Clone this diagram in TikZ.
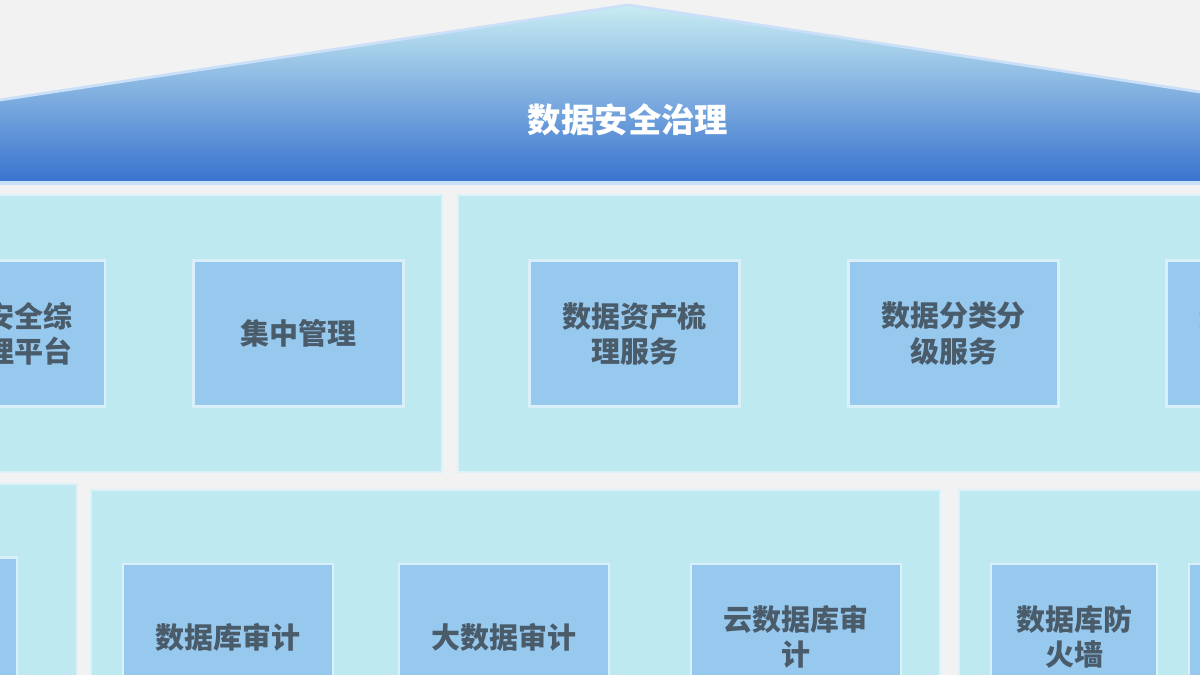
\documentclass[tikz,border=0pt]{standalone}
\usepackage{fontspec}
\setmainfont{Noto Sans CJK SC}
\definecolor{bgc}{HTML}{F2F2F2}
\definecolor{rooftop}{HTML}{C8ECF2}
\definecolor{roofbot}{HTML}{3A74CE}
\definecolor{roofedge}{HTML}{CADFF8}
\definecolor{panelc}{HTML}{BEE9F0}
\definecolor{panelb}{HTML}{DDF2F7}
\definecolor{cellc}{HTML}{97C9EE}
\definecolor{cellb}{HTML}{D9EFFA}
\definecolor{txtc}{HTML}{4A5B6A}
\begin{document}
\begin{tikzpicture}[x=0.02cm, y=-0.02cm,
    panel/.style={fill=panelc, draw=panelb, line width=0.8pt},
    cell/.style={rectangle, fill=cellc, draw=cellb, line width=1.6pt,
      minimum width=4.2cm, minimum height=2.92cm, inner sep=2pt,
      text=txtc, align=center,
      font=\fontsize{16.5}{20}\selectfont\bfseries}]
    \useasboundingbox (0,0) rectangle (1200,675);
    \clip (0,0) rectangle (1200,675);
    \fill[bgc] (0,0) rectangle (1200,675);
    % roof
    \shade[top color=rooftop, bottom color=roofbot]
        (-20,103) -- (628,5) -- (1220,95) -- (1220,181) -- (-20,181) -- cycle;
    \draw[roofedge, line width=1.6pt] (-20,103) -- (628,5) -- (1220,95);
    \fill[roofedge] (-20,181) rectangle (1220,185);
    \node[text=white, font=\fontsize{19}{22}\selectfont\bfseries] (roof) at (628,120) {数据安全治理};
    % top row
    \draw[panel] (-20,195) rectangle (442,472);
    \draw[panel] (458,195) rectangle (1220,472);
    \node[cell] (zonghe) at (0,333.5) {数据安全综\\合管理平台};
    \node[cell] (jizhong) at (298.5,333.5) {集中管理};
    \node[cell] (zichan) at (634.5,333.5) {数据资产梳\\理服务};
    \node[cell] (fenlei) at (953.5,333.5) {数据分类分\\级服务};
    \node[cell] (fengxian) at (1271.5,333.5) {数据安全风\\险评估服务};
    % bottom row
    \draw[panel] (-20,484) rectangle (77,700);
    \draw[panel] (91,490) rectangle (940,700);
    \draw[panel] (959,490) rectangle (1220,700);
    \node[cell, minimum height=3.1cm] (left) at (-88,635) {};
    \node[cell] (dbaudit) at (228,637) {数据库审计};
    \node[cell] (bigaudit) at (504,637) {大数据审计};
    \node[cell] (cloudaudit) at (796,637) {云数据库审\\计};
    \node[cell, minimum width=3.32cm] (firewall) at (1074,637) {数据库防\\火墙};
    \node[cell, minimum width=3.32cm] (right) at (1272,637) {};
\end{tikzpicture}
\end{document}
